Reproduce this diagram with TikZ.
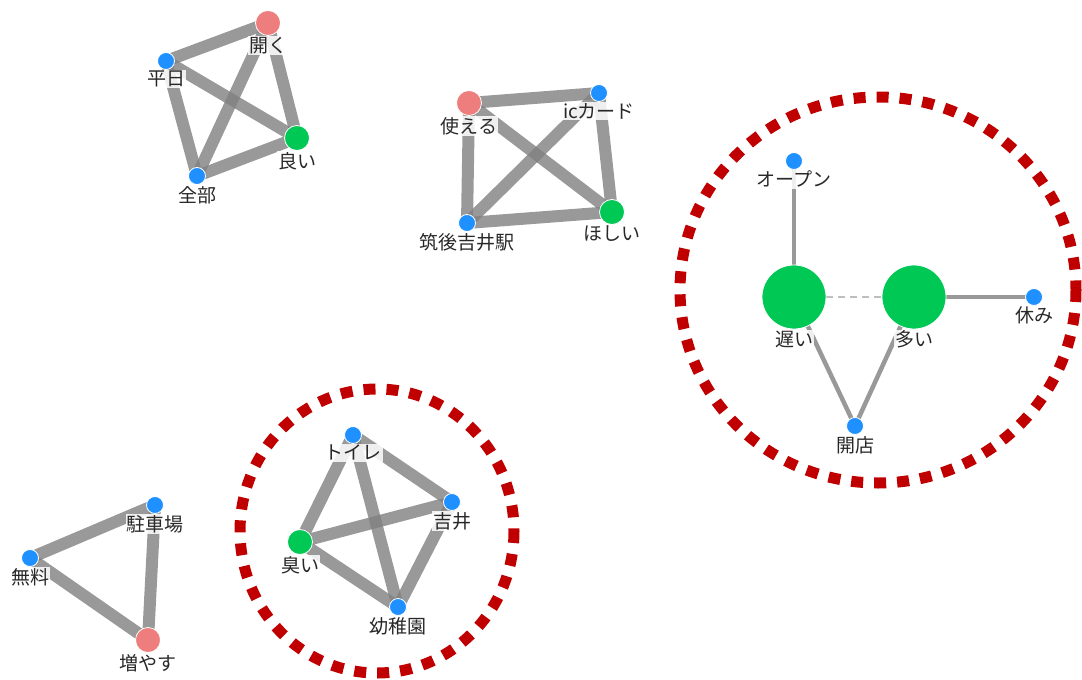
\documentclass[tikz,border=0pt]{standalone}
\usepackage{fontspec}
\setmainfont{Noto Sans CJK JP}
\usetikzlibrary{backgrounds}

\definecolor{wordblue}{RGB}{30,144,255}
\definecolor{wordgreen}{RGB}{0,200,85}
\definecolor{wordred}{RGB}{238,125,125}
\definecolor{ringred}{RGB}{192,0,0}
\definecolor{edgegray}{RGB}{128,128,128}
\definecolor{labeltext}{RGB}{40,40,40}

\tikzset{
  word/.style={circle,draw=white,line width=0.8pt,inner sep=0pt,minimum size=17pt,fill=wordblue},
  hubword/.style={word,minimum size=25pt,fill=wordred},
  keyword/.style={word,minimum size=25pt,fill=wordgreen},
  bigword/.style={word,minimum size=64pt,fill=wordgreen},
  lbl/.style={font=\fontsize{19}{21}\selectfont,text=labeltext,fill=white,fill opacity=0.85,text opacity=1,inner sep=1pt,label distance=0pt},
  link/.style={draw=edgegray,draw opacity=0.8,line width=12pt},
  thinlink/.style={draw=edgegray,draw opacity=0.8,line width=4.5pt},
  weaklink/.style={draw=gray!50,line width=1.5pt,dash pattern=on 7pt off 5pt},
  ring/.style={draw=ringred,line width=11pt,dash pattern=on 12pt off 11pt},
}

\begin{document}
\begin{tikzpicture}[x=1pt,y=-1pt]
	\useasboundingbox (0,0) rectangle (1082,680);
	
	% Group of four: open / weekday
	\node[hubword,label={[lbl]below:開く}] (hiraku) at (268,23) {};
	\node[word,label={[lbl]below:平日}] (heijitsu) at (166,61) {};
	\node[keyword,label={[lbl]below:良い}] (yoi) at (297,138) {};
	\node[word,label={[lbl]below:全部}] (zenbu) at (197,176) {};
	
	% Group of four: ic card
	\node[hubword,label={[lbl]below:使える}] (tsukaeru) at (469,103) {};
	\node[word,label={[lbl]below:icカード}] (iccard) at (599,93) {};
	\node[keyword,label={[lbl]below:ほしい}] (hoshii) at (612,212) {};
	\node[word,label={[lbl]below:筑後吉井駅}] (eki) at (467,223) {};
	
	% Star around the two big words
	\node[word,label={[lbl]below:オープン}] (open) at (794,161) {};
	\node[bigword,label={[lbl]below:遅い}] (osoi) at (794,297) {};
	\node[bigword,label={[lbl]below:多い}] (ooi) at (914,297) {};
	\node[word,label={[lbl]below:休み}] (yasumi) at (1034,297) {};
	\node[word,label={[lbl]below:開店}] (kaiten) at (855,426) {};
	
	% Group of four: toilet
	\node[word,label={[lbl]below:トイレ}] (toilet) at (353,435) {};
	\node[word,label={[lbl]below:吉井}] (yoshii) at (452,502) {};
	\node[keyword,label={[lbl]below:臭い}] (kusai) at (300,542) {};
	\node[word,label={[lbl]below:幼稚園}] (youchien) at (398,607) {};
	
	% Triangle: parking
	\node[word,label={[lbl]below:駐車場}] (chusha) at (155,505) {};
	\node[word,label={[lbl]below:無料}] (muryo) at (30,558) {};
	\node[hubword,label={[lbl]below:増やす}] (fuyasu) at (148,640) {};
	
	\begin{scope}[on background layer]
		% Edges, drawn centre to centre
		\draw[link] (hiraku.center) -- (heijitsu.center);
		\draw[link] (hiraku.center) -- (yoi.center);
		\draw[link] (hiraku.center) -- (zenbu.center);
		\draw[link] (heijitsu.center) -- (yoi.center);
		\draw[link] (heijitsu.center) -- (zenbu.center);
		\draw[link] (zenbu.center) -- (yoi.center);
		
		\draw[link] (tsukaeru.center) -- (iccard.center);
		\draw[link] (tsukaeru.center) -- (eki.center);
		\draw[link] (tsukaeru.center) -- (hoshii.center);
		\draw[link] (iccard.center) -- (eki.center);
		\draw[link] (iccard.center) -- (hoshii.center);
		\draw[link] (eki.center) -- (hoshii.center);
		
		\draw[thinlink] (open.center) -- (osoi.center);
		\draw[thinlink] (osoi.center) -- (kaiten.center);
		\draw[thinlink] (ooi.center) -- (kaiten.center);
		\draw[thinlink] (ooi.center) -- (yasumi.center);
		\draw[weaklink] (osoi) -- (ooi);
		
		\draw[link] (toilet.center) -- (yoshii.center);
		\draw[link] (toilet.center) -- (kusai.center);
		\draw[link] (toilet.center) -- (youchien.center);
		\draw[link] (yoshii.center) -- (kusai.center);
		\draw[link] (yoshii.center) -- (youchien.center);
		\draw[link] (kusai.center) -- (youchien.center);
		
		\draw[link] (chusha.center) -- (muryo.center);
		\draw[link] (chusha.center) -- (fuyasu.center);
		\draw[link] (muryo.center) -- (fuyasu.center);
	\end{scope}
	
	% Dotted rings
	\draw[ring] (377,531) ellipse [x radius=137,y radius=142];
	\draw[ring] (878,290) ellipse [x radius=198,y radius=193];
	
\end{tikzpicture}
\end{document}
